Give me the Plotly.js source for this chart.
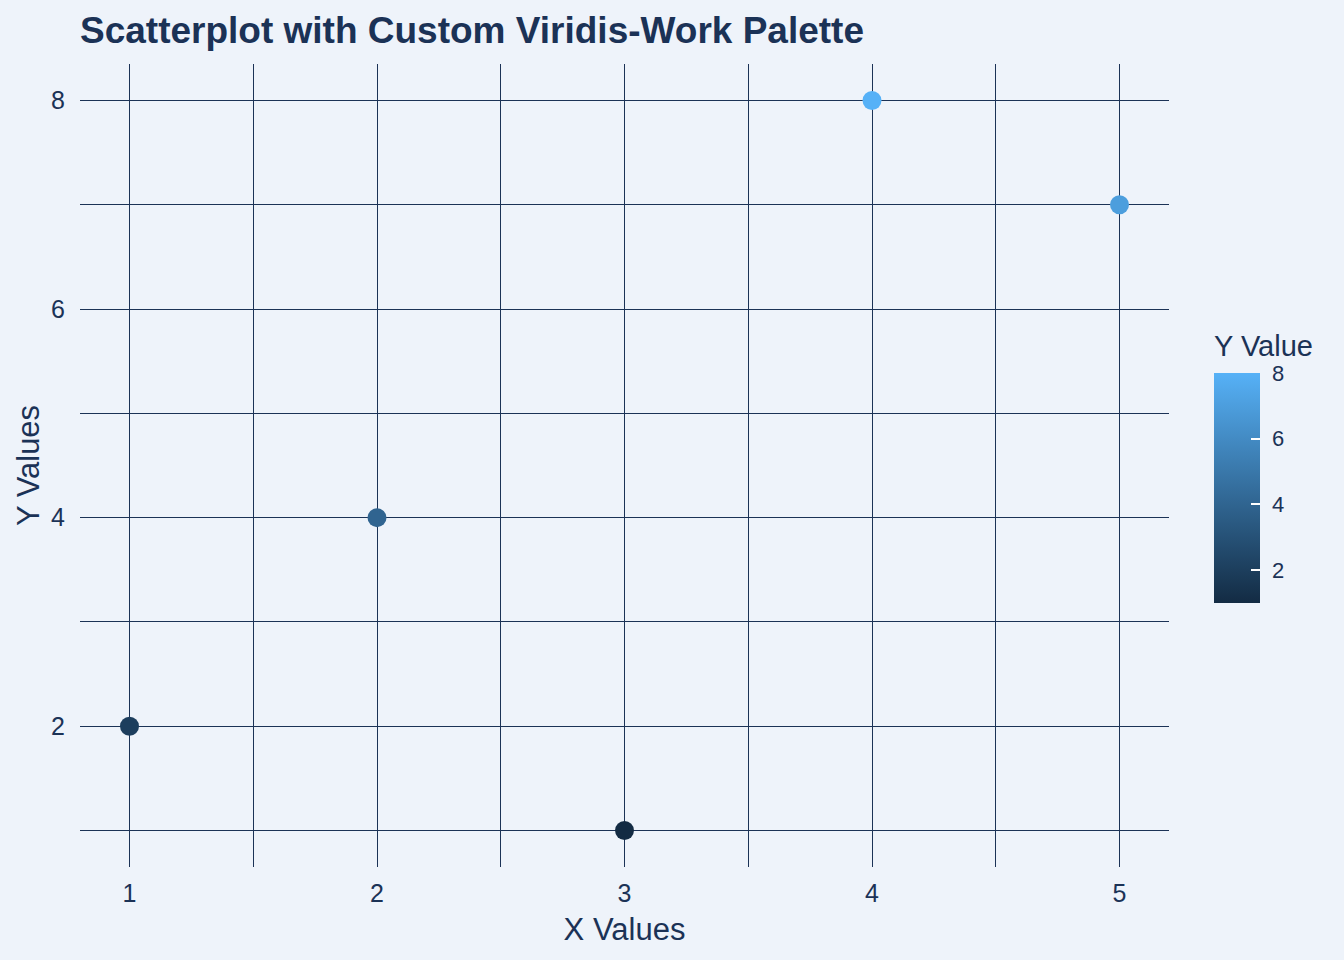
<!DOCTYPE html>
<html>
<head>
<meta charset="utf-8">
<script src="https://cdn.plot.ly/plotly-3.0.1.min.js"></script>
<style>html,body{margin:0;padding:0;background:#EEF3FA;}#chart{width:1344px;height:960px;}</style>
</head>
<body>
<div id="chart"></div>
<script>
const xValues = [1, 2, 3, 4, 5];
const yValues = [2, 4, 1, 8, 7];
const colorbarTicks = [2, 4, 6, 8];
const colorLow = '#132B43';
const colorHigh = '#56B1F7';
const textColor = '#1B3256';
const gridColor = '#1B3256';
const bg = '#EEF3FA';
const fam = 'Liberation Sans, Arial, sans-serif';

const cbBase = {
  tickvals: colorbarTicks,
  outlinewidth: 0,
  thickness: 46,
  thicknessmode: 'pixels',
  len: 230,
  lenmode: 'pixels',
  x: 1.0413,
  xanchor: 'left',
  y: 0.472,
  yanchor: 'middle',
  xpad: 0,
  ypad: 0
};
const scale = [[0, colorLow], [1, colorHigh]];

// labelled colorbar (labels pushed out by invisible outside ticks)
const trace = {
  type: 'scatter',
  mode: 'markers',
  x: xValues,
  y: yValues,
  marker: {
    size: 19,
    color: yValues,
    cmin: 1,
    cmax: 8,
    colorscale: scale,
    line: {width: 0},
    showscale: true,
    colorbar: Object.assign({}, cbBase, {
      ticks: 'outside',
      ticklen: 8,
      tickcolor: 'rgba(0,0,0,0)',
      tickfont: {size: 22, color: textColor, family: fam}
    })
  },
  hoverinfo: 'x+y'
};

// second colorbar drawn on top: white inside tick marks only
const tickTrace = {
  type: 'scatter',
  mode: 'markers',
  x: xValues,
  y: yValues,
  marker: {
    size: 19,
    opacity: 0,
    color: yValues,
    cmin: 1,
    cmax: 8,
    colorscale: scale,
    showscale: true,
    colorbar: Object.assign({}, cbBase, {
      ticks: 'inside',
      ticklen: 9,
      tickcolor: '#FFFFFF',
      tickwidth: 1.5,
      showticklabels: false
    })
  },
  hoverinfo: 'skip'
};

const layout = {
  width: 1344,
  height: 960,
  paper_bgcolor: bg,
  plot_bgcolor: bg,
  margin: {l: 80, r: 175, t: 64, b: 93},
  font: {family: fam, color: textColor},
  title: {
    text: '<b>Scatterplot with Custom Viridis-Work Palette</b>',
    x: 0, xref: 'paper', xanchor: 'left',
    y: 0.969, yref: 'container', yanchor: 'middle',
    font: {size: 37, color: textColor, family: fam}
  },
  xaxis: {
    range: [0.8, 5.2],
    tickvals: xValues,
    showgrid: true,
    gridcolor: gridColor,
    gridwidth: 1.2,
    zeroline: false,
    showline: false,
    ticks: '',
    ticklabelstandoff: 9,
    tickfont: {size: 25, color: textColor},
    minor: {tickvals: [1.5, 2.5, 3.5, 4.5], showgrid: true, gridcolor: gridColor, gridwidth: 1.2},
    title: {text: 'X Values', font: {size: 31, color: textColor}, standoff: 12}
  },
  yaxis: {
    range: [0.65, 8.35],
    tickvals: [2, 4, 6, 8],
    showgrid: true,
    gridcolor: gridColor,
    gridwidth: 1.2,
    zeroline: false,
    showline: false,
    ticks: '',
    ticklabelstandoff: 14,
    tickfont: {size: 25, color: textColor},
    minor: {tickvals: [1, 3, 5, 7], showgrid: true, gridcolor: gridColor, gridwidth: 1.2},
    title: {text: 'Y Values', font: {size: 31, color: textColor}, standoff: 2}
  },
  annotations: [{
    text: 'Y Value',
    xref: 'paper', yref: 'paper',
    x: 1.0395, y: (867 - 346) / 803,
    xanchor: 'left', yanchor: 'middle',
    showarrow: false,
    font: {size: 29, color: textColor, family: fam}
  }],
  showlegend: false
};

Plotly.newPlot('chart', [trace, tickTrace], layout, {displayModeBar: false});
</script>
</body>
</html>
